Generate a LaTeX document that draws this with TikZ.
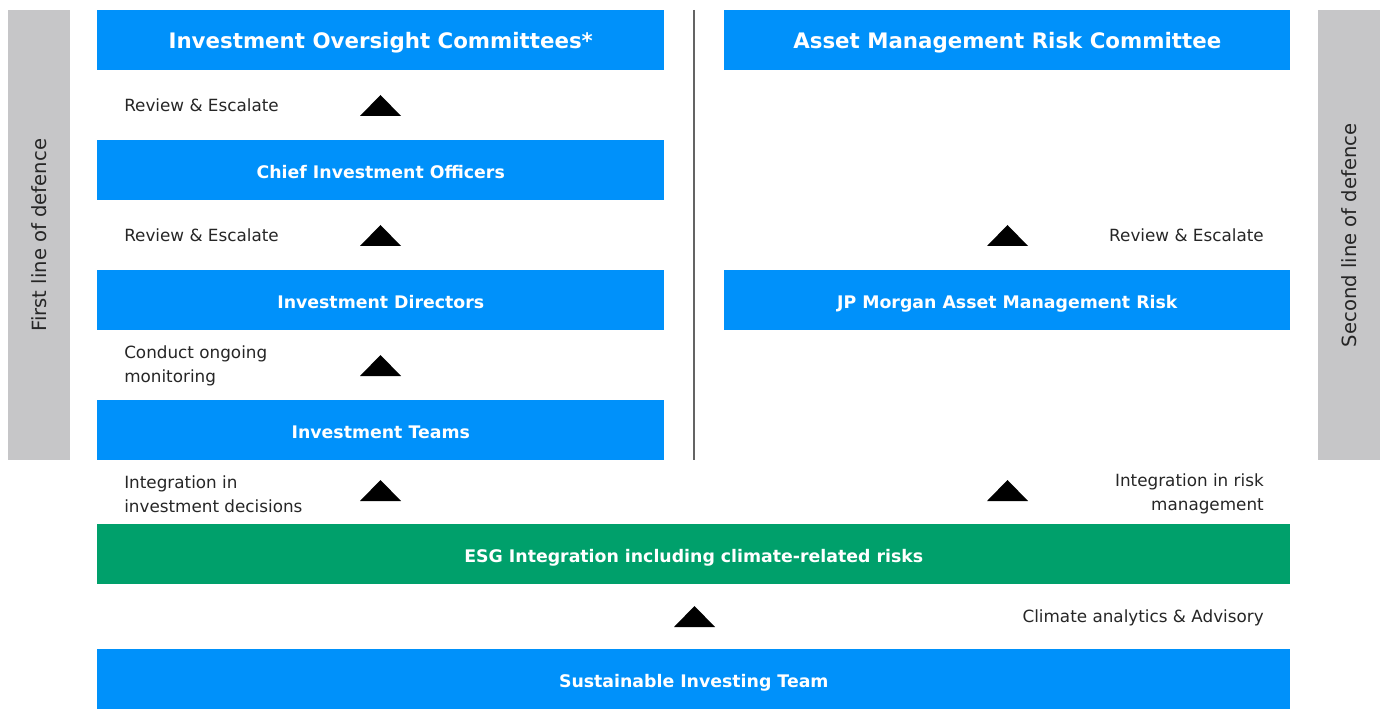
\documentclass[tikz,border=0pt]{standalone}
\usepackage{fontspec}
\setmainfont{DejaVu Sans}
\definecolor{jpblue}{RGB}{0,145,250}
\definecolor{jpgreen}{RGB}{0,160,107}
\definecolor{jpgray}{RGB}{198,198,200}
\definecolor{divline}{RGB}{100,100,100}
\begin{document}
\begin{tikzpicture}[x=0.75pt,y=-0.75pt,
  boxbase/.style={inner sep=0pt, anchor=north west, text=white, minimum height=45pt, text depth=0pt},
  leftbox/.style={boxbase, fill=jpblue, minimum width=425.25pt, font=\bfseries\fontsize{13}{15}\selectfont, text height=12pt},
  rightbox/.style={boxbase, fill=jpblue, minimum width=424.5pt, font=\bfseries\fontsize{13}{15}\selectfont, text height=12pt},
  widebox/.style={boxbase, minimum width=894.75pt, font=\bfseries\fontsize{13}{15}\selectfont, text height=12pt},
  titlefont/.style={font=\bfseries\fontsize{16}{19}\selectfont, text height=12.5pt},
  sidebar/.style={fill=jpgray, inner sep=0pt, anchor=north west, minimum width=46.5pt, minimum height=337.5pt},
  lbl/.style={font=\fontsize{12.6}{18}\selectfont, text=black!85, inner sep=0pt},
  sidelbl/.style={font=\fontsize{14.7}{18}\selectfont, text=black!85, inner sep=0pt, rotate=90},
  tri/.style={fill=black}
]
\useasboundingbox (0,0) rectangle (1384,709);

% side bars
\node[sidebar] (lbar) at (8,10) {};
\node[sidebar] (rbar) at (1318,10) {};
\node[sidelbl] (ltxt) at (lbar.center) {First line of defence};
\node[sidelbl] (rtxt) at (rbar.center) {Second line of defence};

% divider
\draw[divline, line width=1.2pt] (694,10) -- (694,460);

% left column
\node[leftbox, titlefont] (ioc) at (97,10) {Investment Oversight Committees*};
\node[leftbox] (cio) at (97,140) {Chief Investment Officers};
\node[leftbox] (id) at (97,270) {Investment Directors};
\node[leftbox] (it) at (97,400) {Investment Teams};

% right column
\node[rightbox, titlefont] (amrc) at (724,10) {Asset Management Risk Committee};
\node[rightbox] (jpr) at (724,270) {JP Morgan Asset Management Risk};

% wide boxes
\node[widebox, fill=jpgreen] (esg) at (97,524) {ESG Integration including climate-related risks};
\node[widebox, fill=jpblue] (sit) at (97,649) {Sustainable Investing Team};

% left labels
\node[lbl, anchor=west] (l1) at (124,105) {Review \& Escalate};
\node[lbl, anchor=west] (l2) at (124,235) {Review \& Escalate};
\node[lbl, anchor=west, align=left] (l3) at (124,366) {Conduct ongoing\\monitoring};
\node[lbl, anchor=west, align=left] (l4) at (124,494) {Integration in\\investment decisions};

% right labels
\node[lbl, anchor=east] (r1) at (1264,235) {Review \& Escalate};
\node[lbl, anchor=east, align=right] (r2) at (1264,494) {Integration in risk\\management};
\node[lbl, anchor=east] (r3) at (1264,618) {Climate analytics \& Advisory};

% triangles
\foreach \yy in {116,246,376,501} {
  \fill[tri] (360,\yy) -- (401,\yy) -- (380.5,\yy-21) -- cycle;
}
\foreach \yy in {246,501} {
  \fill[tri] (987,\yy) -- (1028,\yy) -- (1007.5,\yy-21) -- cycle;
}
\fill[tri] (674,627) -- (715,627) -- (694.5,606) -- cycle;
\end{tikzpicture}
\end{document}
